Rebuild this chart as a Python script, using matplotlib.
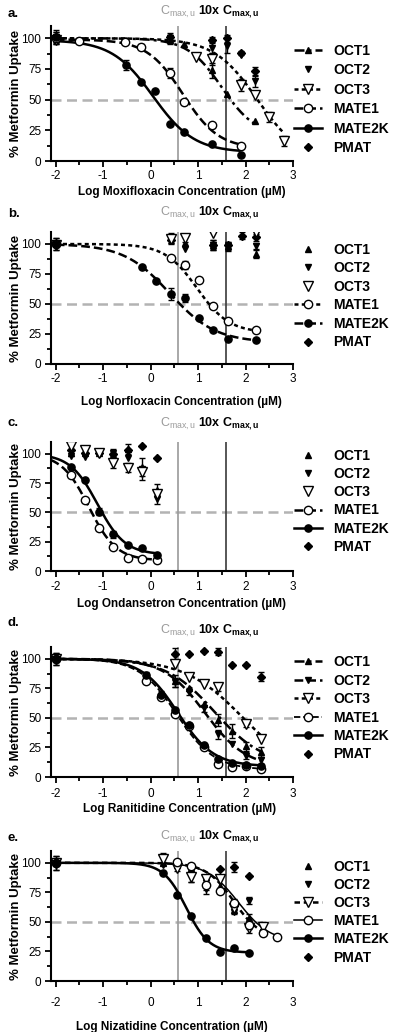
import numpy as np
import matplotlib
matplotlib.use('Agg')
import matplotlib.pyplot as plt
from matplotlib.lines import Line2D
from matplotlib.ticker import MultipleLocator

plt.rcParams['font.family'] = ['Liberation Sans', 'DejaVu Sans']
plt.rcParams['mathtext.fontset'] = 'custom'
plt.rcParams['mathtext.rm'] = 'Liberation Sans'
plt.rcParams['mathtext.bf'] = 'Liberation Sans:bold'
plt.rcParams['mathtext.it'] = 'Liberation Sans:italic'
plt.rcParams['axes.unicode_minus'] = False

# ---------------- data ----------------
transporters = ['OCT1', 'OCT2', 'OCT3', 'MATE1', 'MATE2K', 'PMAT']
panel_letters = ['a.', 'b.', 'c.', 'd.', 'e.']
drugs = ['Moxifloxacin', 'Norfloxacin', 'Ondansetron', 'Ranitidine', 'Nizatidine']
x_ticks = [-2, -1, 0, 1, 2, 3]
y_ticks = [0, 25, 50, 75, 100]
cmax_log = 0.58
cmax10_log = 1.58
half_uptake = 50

# (a) Moxifloxacin
moxi_x = {
    'OCT1': [-2, 0.40, 0.70, 1.30, 1.60, 2.20],
    'OCT2': [-2, 0.40, 1.30, 1.60, 1.90, 2.20],
    'OCT3': [-2, 0.95, 1.30, 1.90, 2.20, 2.50, 2.80],
    'MATE1': [-2, -1.52, -0.53, -0.20, 0.40, 0.70, 1.30, 1.90],
    'MATE2K': [-2, -0.52, -0.21, 0.09, 0.40, 0.70, 1.30, 1.90],
    'PMAT': [-2, 0.40, 1.30, 1.60, 1.90, 2.20],
}
moxi_y = {
    'OCT1': [100, 99, 95, 74, 55, 33],
    'OCT2': [101, 100, 92, 94, 86, 65],
    'OCT3': [99, 85, 83, 62, 54, 36, 16],
    'MATE1': [100, 98, 97, 93, 72, 48, 29, 12],
    'MATE2K': [101, 78, 64, 57, 30, 24, 14, 5],
    'PMAT': [100, 101, 99, 100, 88, 73],
}
moxi_err = {
    'OCT1': [5, 4, 0, 6, 0, 0],
    'OCT2': [4, 3, 4, 6, 0, 5],
    'OCT3': [3, 0, 5, 5, 0, 4, 4],
    'MATE1': [3, 0, 0, 2, 4, 0, 0, 0],
    'MATE2K': [6, 4, 0, 0, 0, 0, 0, 0],
    'PMAT': [0, 3, 2, 3, 2, 4],
}
# fitted (top, bottom, logIC50, hill slope)
moxi_fit = {
    'OCT1': (100, 20, 1.50, 1.2),
    'OCT3': (100, 0, 2.25, 0.95),
    'MATE1': (99, 10, 0.68, 1.15),
    'MATE2K': (98.5, 7, 0.05, 1.0),
}

# (b) Norfloxacin
norf_x = {
    'OCT1': [-2, 0.42, 0.72, 1.32, 1.62, 2.22],
    'OCT2': [-2, 0.42, 0.72, 1.32, 1.62, 2.22],
    'OCT3': [-2, 0.42, 0.72, 1.32, 2.22],
    'MATE1': [-2, 0.42, 0.72, 1.02, 1.32, 1.62, 2.22],
    'MATE2K': [-2, -0.18, 0.12, 0.42, 0.72, 1.02, 1.32, 1.62, 2.22],
    'PMAT': [-2, 0.42, 1.32, 1.62, 1.92, 2.22],
}
norf_y = {
    'OCT1': [100, 107, 101, 99, 98, 92],
    'OCT2': [100, 104, 96, 99, 98, 98],
    'OCT3': [99, 104, 105, 109, 110],
    'MATE1': [100, 88, 82.5, 70, 48, 36, 28.5],
    'MATE2K': [100, 81, 69, 58.5, 55, 38.5, 28.5, 21, 20],
    'PMAT': [100, 103, 99, 99, 107, 105.5],
}
norf_err = {
    'OCT1': [5, 2, 0, 3, 4, 4],
    'OCT2': [0, 3, 0, 4, 3, 3],
    'OCT3': [0, 3, 3, 0, 0],
    'MATE1': [0, 0, 3, 0, 0, 0, 0],
    'MATE2K': [5, 0, 0, 5, 3, 0, 0, 0, 0],
    'PMAT': [0, 3, 4, 3, 3, 3],
}
norf_fit = {
    'MATE1': (100, 26, 0.98, 1.28),
    'MATE2K': (100, 18, 0.40, 0.9),
}

# (c) Ondansetron
onda_x = {
    'OCT1': [-1.68, -1.39, -1.09, -0.79, -0.48, -0.18, 0.13],
    'OCT2': [-1.68, -1.39, -1.09, -0.79, -0.48, -0.18, 0.13],
    'OCT3': [-1.68, -1.39, -1.09, -0.79, -0.48, -0.18, 0.13],
    'MATE1': [-1.68, -1.39, -1.09, -0.79, -0.48, -0.18, 0.13],
    'MATE2K': [-1.68, -1.39, -1.09, -0.79, -0.48, -0.18, 0.13],
    'PMAT': [-1.68, -1.39, -1.09, -0.79, -0.48, -0.18, 0.13],
}
onda_y = {
    'OCT1': [101, 101, 101, 99, 104, 89, 69],
    'OCT2': [98, 97.5, 101, 101, 96, 87, 61],
    'OCT3': [107, 103, 101, 92, 88, 84, 66],
    'MATE1': [82, 60.5, 37, 20.5, 11, 10, 9.2],
    'MATE2K': [89, 78, 50.5, 31.5, 22.5, 20, 14],
    'PMAT': [103, 101, 101, 100, 103, 106.5, 96],
}
onda_err = {
    'OCT1': [3, 0, 0, 0, 4, 0, 5],
    'OCT2': [0, 0, 0, 3, 0, 9, 4],
    'OCT3': [0, 0, 0, 4, 4, 3, 0],
    'MATE1': [0, 0, 0, 0, 0, 0, 0],
    'MATE2K': [0, 0, 3, 3, 0, 0, 0],
    'PMAT': [0, 0, 0, 0, 0, 0, 0],
}
onda_fit = {
    'MATE1': (100, 9, -1.30, 1.5),
    'MATE2K': (100, 14, -1.12, 1.5),
}

# (d) Ranitidine
rani_x = {
    'OCT1': [-2, 0.52, 0.81, 1.12, 1.41, 1.72, 2.01, 2.32],
    'OCT2': [-2, 0.52, 0.81, 1.12, 1.41, 1.72, 2.01, 2.32],
    'OCT3': [-2, 0.52, 0.81, 1.12, 1.41, 2.01, 2.32],
    'MATE1': [-2, -0.09, 0.21, 0.52, 0.81, 1.12, 1.41, 1.72, 2.01, 2.32],
    'MATE2K': [-2, -0.09, 0.21, 0.52, 0.81, 1.12, 1.41, 1.72, 2.01, 2.32],
    'PMAT': [-2, 0.52, 0.81, 1.12, 1.41, 1.72, 2.01, 2.32],
}
rani_y = {
    'OCT1': [100, 81, 75, 62, 48, 39, 26, 21],
    'OCT2': [100, 80, 72, 58, 36, 28, 18, 14],
    'OCT3': [100, 96, 85, 79, 76, 45, 32],
    'MATE1': [100, 81, 68, 53, 43, 25.5, 10.6, 8.3, 8.9, 7],
    'MATE2K': [100, 86, 69.4, 57, 44.4, 27, 15, 12, 10, 9.7],
    'PMAT': [100, 104, 104.5, 106.5, 106, 95, 95, 85],
}
rani_err = {
    'OCT1': [5, 5, 0, 0, 5, 6, 4, 4],
    'OCT2': [0, 4, 3, 3, 4, 0, 3, 3],
    'OCT3': [0, 0, 0, 0, 3, 3, 0],
    'MATE1': [0, 0, 0, 0, 0, 0, 0, 0, 0, 0],
    'MATE2K': [5, 3, 3, 0, 0, 0, 0, 0, 0, 0],
    'PMAT': [0, 5, 0, 0, 3, 0, 0, 4],
}
rani_fit = {
    'OCT1': (100, 10, 1.35, 0.85),
    'OCT2': (100, 8, 1.15, 1.0),
    'OCT3': (100, 0, 1.95, 0.7),
    'MATE1': (100, 6, 0.55, 1.1),
    'MATE2K': (100, 9, 0.57, 1.15),
}

# (e) Nizatidine
niza_x = {
    'OCT1': [-2, 0.25, 0.56, 0.86, 1.16, 1.46, 1.76, 2.07],
    'OCT2': [-2, 0.25, 0.56, 0.86, 1.16, 1.46, 1.76, 2.07],
    'OCT3': [-2, 0.25, 0.56, 0.86, 1.16, 1.46, 1.76, 2.07, 2.36],
    'MATE1': [-2, 0.56, 0.86, 1.16, 1.46, 1.76, 2.07, 2.36, 2.66],
    'MATE2K': [-2, 0.25, 0.56, 0.86, 1.16, 1.46, 1.76, 2.07],
    'PMAT': [-2, 0.86, 1.46, 1.76, 2.07],
}
niza_y = {
    'OCT1': [100, 100, 98, 96, 88, 80, 60, 53],
    'OCT2': [100, 98, 97, 88, 78, 76, 58, 68],
    'OCT3': [100, 103, 96, 88, 86, 86, 62, 45, 46],
    'MATE1': [100, 101, 97, 81, 76, 66, 47, 41, 37.5],
    'MATE2K': [100, 91, 73, 54.6, 36.7, 24.6, 28, 24],
    'PMAT': [100, 97, 95, 96.5, 89],
}
niza_err = {
    'OCT1': [0, 0, 0, 0, 0, 0, 3, 4],
    'OCT2': [0, 0, 0, 4, 4, 0, 0, 3],
    'OCT3': [6, 5, 3, 4, 0, 0, 0, 4, 4],
    'MATE1': [0, 0, 0, 4, 0, 3, 3, 0, 0],
    'MATE2K': [6, 0, 0, 0, 0, 0, 0, 0],
    'PMAT': [0, 0, 0, 4, 0],
}
niza_fit = {
    'OCT3': (100, 35, 1.75, 1.5),
    'MATE1': (100, 33, 1.85, 1.3),
    'MATE2K': (100, 24, 0.75, 1.8),
}

panel_x = [moxi_x, norf_x, onda_x, rani_x, niza_x]
panel_y = [moxi_y, norf_y, onda_y, rani_y, niza_y]
panel_err = [moxi_err, norf_err, onda_err, rani_err, niza_err]
panel_fit = [moxi_fit, norf_fit, onda_fit, rani_fit, niza_fit]

# ---------------- styles / layout ----------------
DASHDOT = (0, (4, 1.6, 1.2, 1.6))
DOTTED = (0, (1.6, 1.3))
DASHED = (0, (3.5, 1.6))
SHORTDASH = (0, (2.2, 1.5))
panel_linestyles = [
    {'OCT1': DASHDOT, 'OCT3': DOTTED, 'MATE1': DASHED, 'MATE2K': '-'},
    {'MATE1': DOTTED, 'MATE2K': DASHED},
    {'MATE1': DASHED, 'MATE2K': '-'},
    {'OCT1': DASHDOT, 'OCT2': DASHED, 'OCT3': DOTTED, 'MATE1': DASHED, 'MATE2K': '-'},
    {'OCT3': SHORTDASH, 'MATE1': '-', 'MATE2K': '-'},
]
panel_linewidths = [
    {},
    {},
    {},
    {'MATE1': 1.3},
    {'MATE1': 1.1},
]
marker_style = {
    'OCT1': dict(marker='^', mfc='black', mec='black', ms=5),
    'OCT2': dict(marker='v', mfc='black', mec='black', ms=5),
    'OCT3': dict(marker='v', mfc='white', mec='black', ms=6.5, mew=1.0),
    'MATE1': dict(marker='o', mfc='white', mec='black', ms=6, mew=1.0),
    'MATE2K': dict(marker='o', mfc='black', mec='black', ms=5.2),
    'PMAT': dict(marker='D', mfc='black', mec='black', ms=3.8),
}
z_order = {'OCT1': 6, 'OCT2': 6, 'OCT3': 7, 'MATE1': 8, 'MATE2K': 9, 'PMAT': 6}

W, H = 400, 1032
ax_left_px, ax_right_px = 51, 293
ax_tops_px = [26, 232, 442, 647, 851]
ax_bottoms_px = [161, 364, 571, 777, 981]
letter_y_px = [14, 214, 423, 623, 838]
legend_center = [0.456, 0.515, 0.54, 0.528, 0.53]
legend_spacing = [0.40, 0.33, 0.30, 0.32, 0.30]
xtick_pad = [2.4, 2.7, 3.1, 4.0, 7.2]
xlabel_off_px = [31, 37.7, 32.6, 32, 46]
xlabel_xfrac = [0.54, 0.54, 0.54, 0.53, 0.5]
cmax_pad_pt = [4, 8, 7, 6, 4]
cmax_fontsize = 9
black_label_shift_pt = 14.6

fig = plt.figure(figsize=(W / 100, H / 100), dpi=100)


def hill_curve(x, top, bottom, logic50, slope):
    return bottom + (top - bottom) / (1 + 10 ** (slope * (x - logic50)))


for i in range(5):
    top_px, bot_px = ax_tops_px[i], ax_bottoms_px[i]
    h_px = bot_px - top_px
    ax = fig.add_axes([ax_left_px / W, 1 - bot_px / H,
                       (ax_right_px - ax_left_px) / W, h_px / H])
    ax.set_xlim(-2.1, 3)
    ax.set_ylim(0, 110)

    # reference lines
    ax.axvline(cmax_log, color='#9a9a9a', lw=1.2, zorder=2)
    ax.axvline(cmax10_log, color='#3a3a3a', lw=1.2, zorder=2)
    ax.axhline(half_uptake, color='#b3b3b3', lw=1.8, ls=(0, (4, 2.2)), zorder=1)

    xs, ys, es, fits = panel_x[i], panel_y[i], panel_err[i], panel_fit[i]
    lstyles = panel_linestyles[i]
    lwidths = panel_linewidths[i]

    for t in transporters:
        x = np.array(xs[t], dtype=float)
        y = np.array(ys[t], dtype=float)
        e = np.array(es[t], dtype=float)
        if t in fits:
            xc = np.linspace(min(-2.1 if i == 2 else x.min(), x.min()), x.max(), 300)
            ax.plot(xc, hill_curve(xc, *fits[t]), color='black',
                    ls=lstyles.get(t, '-'), lw=lwidths.get(t, 1.8),
                    zorder=4, solid_capstyle='butt', dash_capstyle='butt')
        mask = e > 0
        if mask.any():
            ax.errorbar(x[mask], y[mask], yerr=e[mask], fmt='none',
                        ecolor='black', elinewidth=1.0, capsize=2.5,
                        capthick=1.0, zorder=5)
        ax.plot(x, y, ls='none', zorder=z_order[t], **marker_style[t])

    # axes styling
    for s in ['top', 'right']:
        ax.spines[s].set_visible(False)
    for s in ['left', 'bottom']:
        ax.spines[s].set_linewidth(1.5)
    ax.set_xticks(x_ticks)
    ax.set_yticks(y_ticks)
    ax.xaxis.set_minor_locator(MultipleLocator(0.5))
    ax.yaxis.set_minor_locator(MultipleLocator(12.5))
    ax.tick_params(which='major', direction='out', length=4, width=1.3,
                   labelsize=8.5, color='black')
    ax.tick_params(which='minor', direction='out', length=3, width=1.3)
    ax.tick_params(axis='x', which='major', pad=xtick_pad[i])
    ax.tick_params(axis='y', which='major', pad=3)

    ax.set_ylabel('% Metformin Uptake', fontweight='bold', fontsize=9.5)
    ax.yaxis.set_label_coords(-35 / (ax_right_px - ax_left_px), 0.5)
    ax.yaxis.label.set_verticalalignment('center')
    ax.set_xlabel(f'Log {drugs[i]} Concentration (µM)', fontweight='bold',
                  fontsize=8.5)
    ax.xaxis.set_label_coords(xlabel_xfrac[i], -xlabel_off_px[i] / h_px)
    ax.xaxis.label.set_verticalalignment('center')

    # Cmax annotations
    ax.annotate(r'$\mathrm{C}_{\mathrm{max,u}}$', xy=(cmax_log, 1),
                xycoords=('data', 'axes fraction'), xytext=(0, cmax_pad_pt[i]),
                textcoords='offset points', ha='center', va='bottom',
                color='#9a9a9a', fontsize=cmax_fontsize, annotation_clip=False)
    ax.annotate(r'$\mathbf{10x\ C}_{\mathbf{max,u}}$', xy=(cmax_log, 1),
                xycoords=('data', 'axes fraction'),
                xytext=(black_label_shift_pt, cmax_pad_pt[i]),
                textcoords='offset points', ha='left', va='bottom',
                color='black', fontsize=cmax_fontsize, annotation_clip=False)

    # legend
    handles = []
    for t in transporters:
        ls = lstyles.get(t, 'none')
        handles.append(Line2D([], [], color='black', ls=ls,
                              lw=lwidths.get(t, 1.8), **marker_style[t]))
    ax.legend(handles, transporters, loc='center left',
              bbox_to_anchor=(1.0, legend_center[i]), frameon=False,
              prop=dict(weight='bold', size=10), handlelength=2.0,
              handletextpad=0.8, labelspacing=legend_spacing[i],
              borderpad=0, borderaxespad=0.1, numpoints=1)

    fig.text(8 / W, 1 - letter_y_px[i] / H, panel_letters[i],
             fontweight='bold', fontsize=9.5, ha='left', va='center')

fig.savefig('out.png', dpi=100)
